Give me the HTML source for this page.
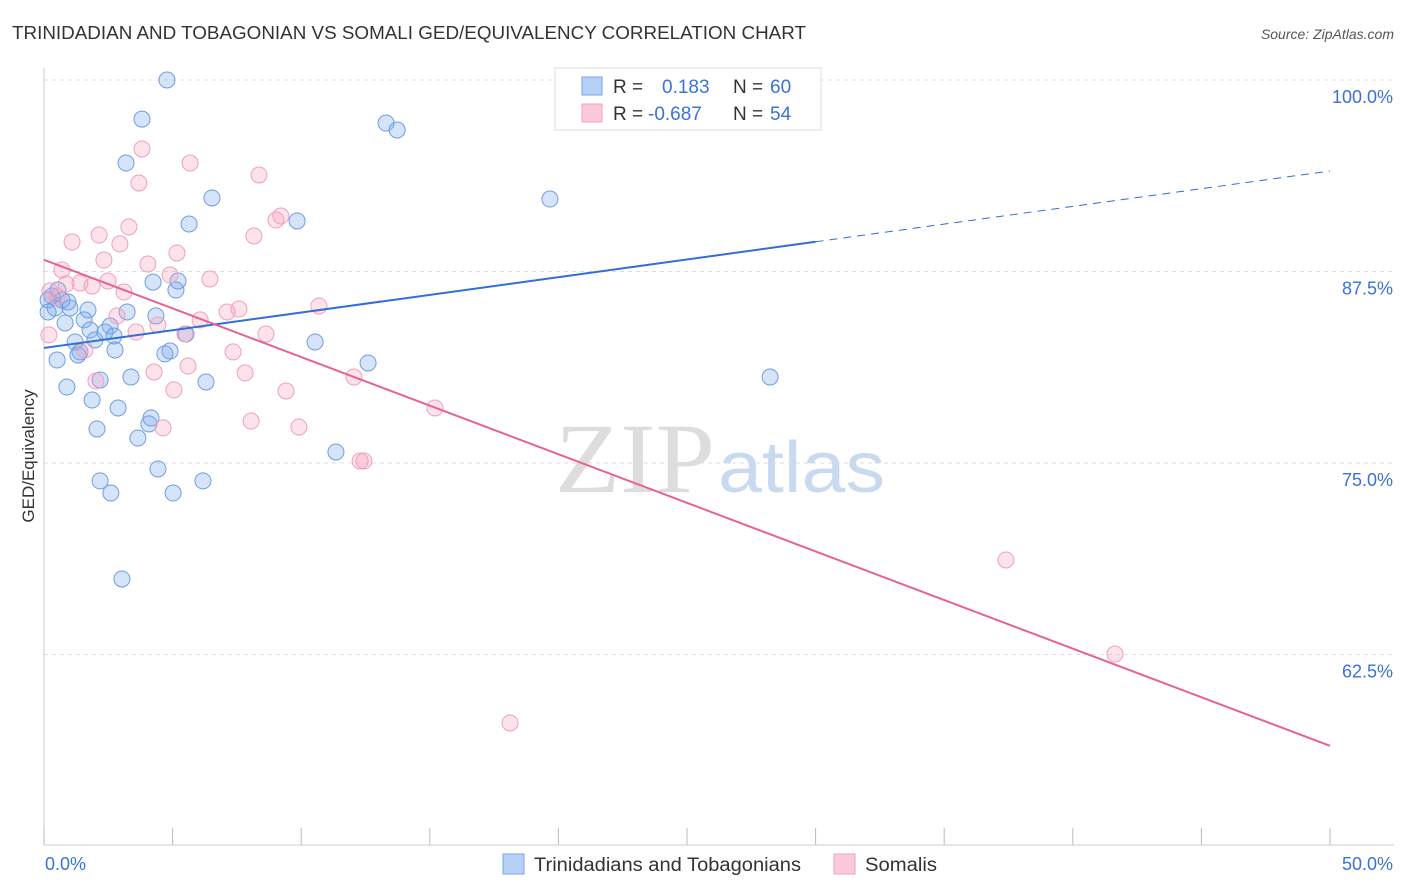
<!DOCTYPE html>
<html><head><meta charset="utf-8"><style>
body{margin:0;background:#fff;font-family:"Liberation Sans",sans-serif}
svg{display:block}
</style></head><body>
<svg id="chart" width="1406" height="892">
<text x="12" y="39" font-size="18" fill="#333" textLength="794" lengthAdjust="spacingAndGlyphs">TRINIDADIAN AND TOBAGONIAN VS SOMALI GED/EQUIVALENCY CORRELATION CHART</text>
<text x="1394" y="39" font-size="14" fill="#555" font-style="italic" text-anchor="end">Source: ZipAtlas.com</text>
<text x="34" y="456" font-size="17" fill="#333" text-anchor="middle" transform="rotate(-90 34 456)">GED/Equivalency</text>
<g>
<text x="555" y="492" font-family="Liberation Serif,serif" font-size="100" fill="#ddd" textLength="160" lengthAdjust="spacingAndGlyphs">ZIP</text>
<text x="718" y="492" font-size="72" fill="#c9daf0" textLength="167" lengthAdjust="spacingAndGlyphs">atlas</text>
</g>
<g id="grid"></g><g id="axes"></g><g id="pts"></g><g id="lines"></g>
<g>
<rect x="555" y="68" width="266" height="62" fill="#fff" stroke="#ddd"/>
<rect x="582" y="77" width="20" height="18" fill="#b7d0f5" stroke="#7aa6e6"/>
<rect x="582" y="104" width="20" height="18" fill="#fbc9d8" stroke="#f0a0bc"/>
<text x="613" y="93" font-size="19" fill="#333">R = <tspan x="662" fill="#3a72d8">0.183</tspan><tspan x="733" fill="#333">N = </tspan><tspan x="770" fill="#3a72d8">60</tspan></text>
<text x="613" y="120" font-size="19" fill="#333">R = <tspan x="648" fill="#3a72d8">-0.687</tspan><tspan x="733" fill="#333">N = </tspan><tspan x="770" fill="#3a72d8">54</tspan></text>
</g>
<g>
<rect x="503" y="854" width="21" height="20" fill="#b7d0f5" stroke="#7aa6e6"/>
<text x="534" y="871" font-size="19" fill="#333" textLength="267" lengthAdjust="spacingAndGlyphs">Trinidadians and Tobagonians</text>
<rect x="834" y="854" width="21" height="20" fill="#fbc9d8" stroke="#f0a0bc"/>
<text x="865" y="871" font-size="19" fill="#333" textLength="72" lengthAdjust="spacingAndGlyphs">Somalis</text>
</g>
</svg>
<script>
const yTicks=[100,87.5,75,62.5];
const yTickLabels=["100.0%","87.5%","75.0%","62.5%"];
const xEndLabels=["0.0%","50.0%"];
const blueX=[4.78,3.81,13.30,13.73,3.19,6.53,19.67,5.64,9.84,4.24,5.21,5.13,0.16,0.70,0.43,1.01,1.71,3.23,4.35,0.82,1.56,2.57,1.79,2.37,2.72,5.52,10.54,1.21,1.98,1.40,2.76,4.90,4.70,0.51,12.60,3.38,6.30,28.23,0.89,1.87,2.88,4.16,4.08,2.06,3.65,11.35,4.43,2.18,6.18,2.60,5.02,3.03,0.16,0.31,0.54,0.93,2.18,1.32];
const blueY=[100,97.45,97.19,96.74,94.58,92.30,92.23,90.60,90.80,86.81,86.88,86.29,85.64,85.64,85.12,85.12,84.99,84.86,84.60,84.14,84.34,83.94,83.68,83.55,83.29,83.42,82.90,82.90,83.03,82.25,82.38,82.31,82.12,81.72,81.53,80.61,80.29,80.61,79.96,79.11,78.59,77.94,77.55,77.22,76.63,75.72,74.61,73.83,73.83,73.04,73.04,67.43,84.86,85.90,86.29,85.51,80.42,82.05];
const pinkX=[3.81,5.68,8.36,3.69,9.21,9.02,3.30,2.14,8.16,1.09,2.95,5.17,2.33,4.04,0.70,4.90,6.45,2.49,0.86,1.87,1.40,3.11,0.51,0.23,7.12,7.58,6.07,2.84,4.43,3.58,5.48,8.63,10.69,0.19,1.59,7.35,5.60,4.28,7.82,2.02,12.05,5.05,9.41,15.20,8.05,4.63,9.91,12.29,12.44,37.40,41.64,18.12];
const pinkY=[95.50,94.58,93.80,93.28,91.12,90.86,90.41,89.88,89.82,89.43,89.30,88.71,88.25,87.99,87.60,87.27,87.01,86.88,86.69,86.55,86.75,86.16,85.84,86.23,84.86,85.05,84.34,84.60,84.01,83.55,83.42,83.42,85.25,83.36,82.38,82.25,81.33,80.94,80.88,80.35,80.61,79.77,79.70,78.59,77.74,77.29,77.35,75.13,75.13,68.67,62.53,58.03];
const blueTrend=[82.51,94.06];
const pinkTrend=[88.26,56.54];
const blueSolidEnd=30;
const NS="http://www.w3.org/2000/svg";
const X=v=>44+v/50*1286, Y=v=>80+(100-v)/12.5*191.5;
function mk(tag,attrs,parent){const e=document.createElementNS(NS,tag);for(const k in attrs)e.setAttribute(k,attrs[k]);document.getElementById(parent).appendChild(e);return e;}
yTicks.forEach((t,i)=>{
 const g=mk('line',{x1:44,x2:1394,y1:Y(t),y2:Y(t),stroke:'#ddd','stroke-dasharray':'4 4'},'grid');
 
 
 const l=mk('text',{x:1393,y:Y(t)+23,'font-size':18,fill:'#3a72d8','text-anchor':'end'},'grid');
 l.textContent=yTickLabels[i];
 
 
});
const ax=mk('line',{x1:44,x2:44,y1:68,y2:845,stroke:'#ccc'},'axes');


const bx=mk('line',{x1:44,x2:1394,y1:845,y2:845,stroke:'#ccc'},'axes');


for(let i=0;i<=10;i++){const t=mk('line',{x1:X(i*5),x2:X(i*5),y1:828,y2:845,stroke:'#bbb'},'axes');
 
 }
[[0,'start',45],[50,'end',1393]].forEach((d,i)=>{const t=mk('text',{x:d[2],y:870,'font-size':18,fill:'#3a72d8','text-anchor':d[1]},'axes');t.textContent=xEndLabels[i];
 
 });
blueX.forEach((v,i)=>{const c=mk('circle',{cx:X(v),cy:Y(blueY[i]),r:8,fill:'rgba(120,165,235,0.3)',stroke:'#6f9de0','stroke-width':1},'pts');
 
 });
pinkX.forEach((v,i)=>{const c=mk('circle',{cx:X(v),cy:Y(pinkY[i]),r:8,fill:'rgba(245,160,190,0.3)',stroke:'#f0a0bc','stroke-width':1},'pts');
 
 });
const bAt=x=>blueTrend[0]+(blueTrend[1]-blueTrend[0])*x/50;
const l1=mk('line',{x1:X(0),y1:Y(bAt(0)),x2:X(blueSolidEnd),y2:Y(bAt(blueSolidEnd)),stroke:'#2f6fd6','stroke-width':2},'lines');


const l2=mk('line',{x1:X(blueSolidEnd),y1:Y(bAt(blueSolidEnd)),x2:X(50),y2:Y(bAt(50)),stroke:'#2f6fd6','stroke-width':1,'stroke-dasharray':'8 6'},'lines');


const l3=mk('line',{x1:X(0),y1:Y(pinkTrend[0]),x2:X(50),y2:Y(pinkTrend[1]),stroke:'#e8628f','stroke-width':2},'lines');


</script>
</body></html>
